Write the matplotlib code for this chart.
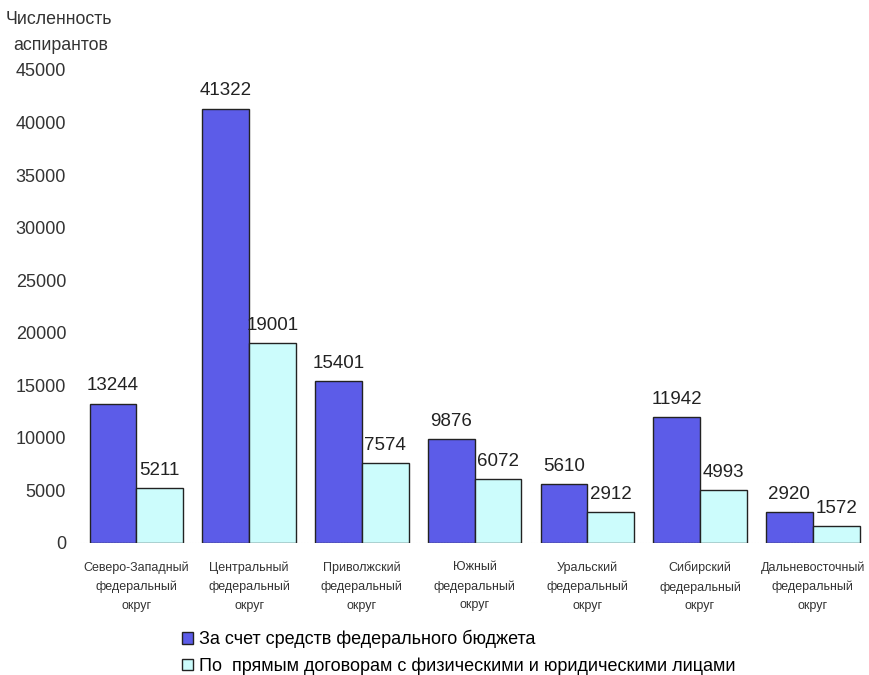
import numpy as np
import matplotlib.pyplot as plt
from matplotlib.patches import Patch

plt.rcParams['font.family'] = ['Liberation Sans', 'DejaVu Sans']

districts = ['Северо-Западный\nфедеральный\nокруг', 'Центральный\nфедеральный\nокруг',
             'Приволжский\nфедеральный\nокруг', 'Южный\nфедеральный\nокруг',
             'Уральский\nфедеральный\nокруг', 'Сибирский\nфедеральный\nокруг',
             'Дальневосточный\nфедеральный\nокруг']
budget = [13244, 41322, 15401, 9876, 5610, 11942, 2920]
contracts = [5211, 19001, 7574, 6072, 2912, 4993, 1572]
yticks = [0, 5000, 10000, 15000, 20000, 25000, 30000, 35000, 40000, 45000]

blue = '#5c5ce8'
cyan = '#ccfcfc'

fig = plt.figure(figsize=(8.7, 6.75), dpi=100)
ax = fig.add_axes([0.092, 0.1956, 0.907, 0.7007])

x = np.arange(len(districts))
w = 0.415
b1 = ax.bar(x - w / 2, budget, w, color=blue, edgecolor='#222222', linewidth=1.0)
b2 = ax.bar(x + w / 2, contracts, w, color=cyan, edgecolor='#222222', linewidth=1.0)

for bars, vals in ((b1, budget), (b2, contracts)):
    for r, v in zip(bars, vals):
        ax.text(r.get_x() + r.get_width() / 2, v + 900, str(v),
                ha='center', va='bottom', fontsize=13.5, color='#222222')

ax.set_xlim(-0.5, len(districts) - 0.5)
ax.set_ylim(0, 45000)
ax.set_yticks(yticks)
ax.set_yticklabels([str(t) for t in yticks], fontsize=13, color='#333333')
ax.set_xticks(x)
ax.set_xticklabels(districts, fontsize=9, color='#333333', linespacing=1.75)
ax.tick_params(axis='both', length=0)
ax.tick_params(axis='x', pad=13)
ax.tick_params(axis='y', pad=10)
for s in ax.spines.values():
    s.set_visible(False)
ax.axhline(0, color='#dddddd', lw=0.8, ls=':')

fig.text(0.006, 0.971, 'Численность', fontsize=12.8, color='#333333', va='center')
fig.text(0.015, 0.932, 'аспирантов', fontsize=12.8, color='#333333', va='center')

handles = [Patch(facecolor=blue, edgecolor='#222222', label='За счет средств федерального бюджета'),
           Patch(facecolor=cyan, edgecolor='#222222', label='По  прямым договорам с физическими и юридическими лицами')]
fig.legend(handles=handles, loc='upper left', bbox_to_anchor=(0.199, 0.08), frameon=False,
           fontsize=13, handlelength=0.6, handleheight=0.6, handletextpad=0.35,
           labelspacing=0.5, borderpad=0)

fig.savefig('out.png', dpi=100)
